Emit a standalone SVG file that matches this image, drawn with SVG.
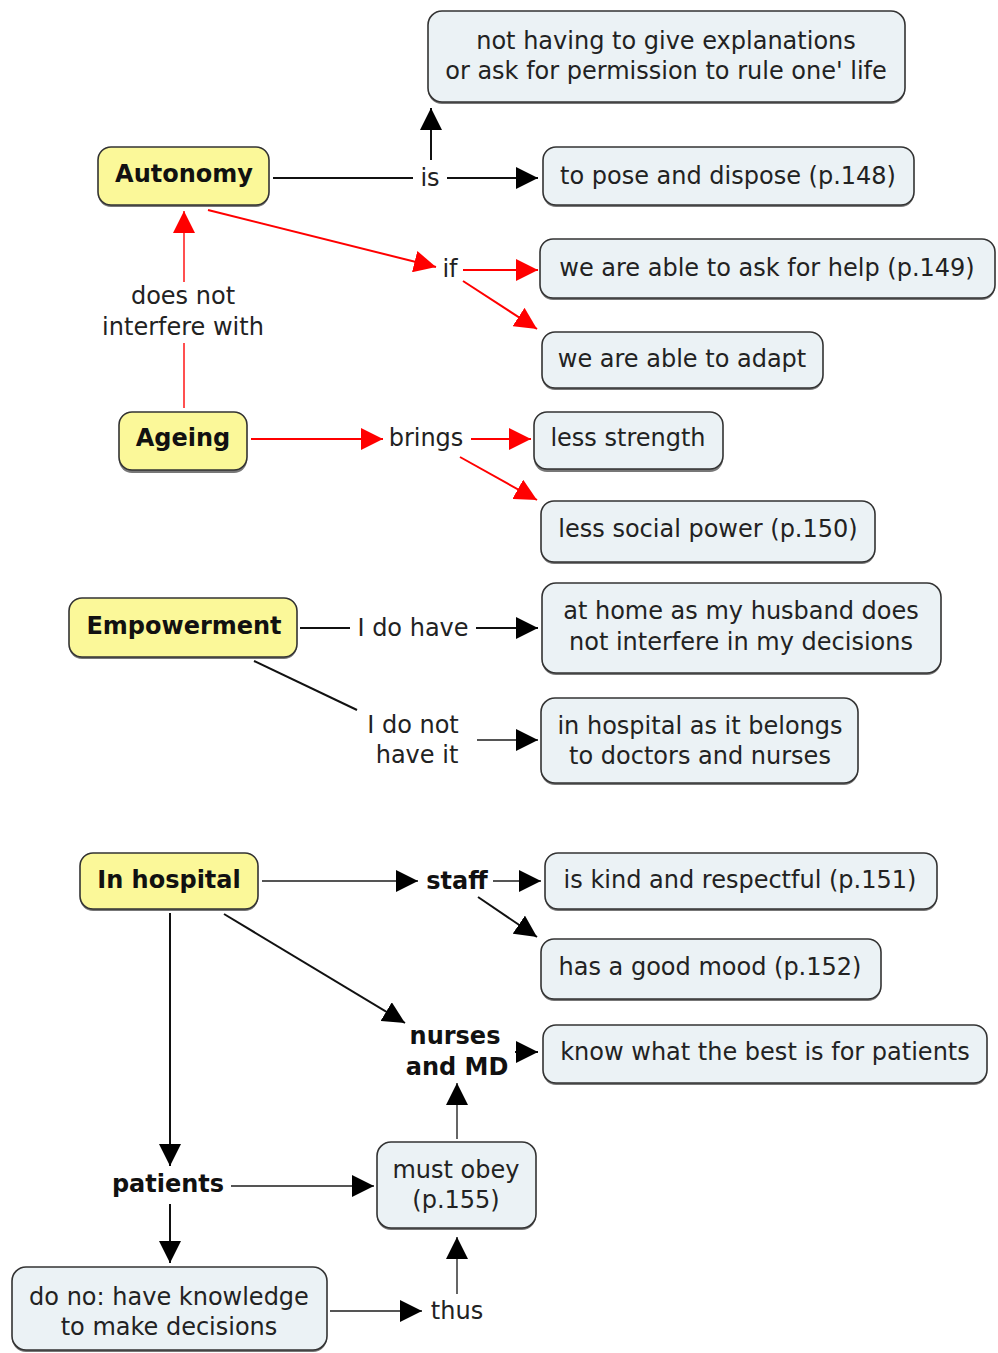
<svg xmlns="http://www.w3.org/2000/svg" width="998" height="1353" viewBox="0 0 998 1353">
<style>
text{font-family:"DejaVu Sans","Verdana",sans-serif;font-size:24px;fill:#222;text-anchor:middle;dominant-baseline:central}
.b{font-weight:bold;fill:#111}
.box{fill:#ebf2f5;stroke:#333;stroke-width:1.6}
.yel{fill:#fbf899;stroke:#333;stroke-width:1.6}
.sh{fill:#777}
.k{stroke:#111;stroke-width:2;fill:none}
.g{stroke:#555;stroke-width:1.8;fill:none}
.r{stroke:#ff0000;stroke-width:2;fill:none}
.rp{stroke:#ff5050;stroke-width:2;fill:none}
</style>
<defs>
<marker id="ak" markerUnits="userSpaceOnUse" markerWidth="22" markerHeight="22" refX="22" refY="11" orient="auto"><path d="M0,0 L22,11 L0,22 z" fill="#000"/></marker>
<marker id="ar" markerUnits="userSpaceOnUse" markerWidth="22" markerHeight="22" refX="22" refY="11" orient="auto"><path d="M0,0 L22,11 L0,22 z" fill="#ff0000"/></marker>
</defs>
<g id="connectors">
<line class="k" x1="273" y1="178" x2="413" y2="178"/>
<line class="k" x1="447" y1="178" x2="538" y2="178" marker-end="url(#ak)"/>
<line class="k" x1="431" y1="160" x2="431" y2="108" marker-end="url(#ak)"/>
<line class="r" x1="208" y1="210" x2="436" y2="267" marker-end="url(#ar)"/>
<line class="r" x1="463" y1="270" x2="538" y2="270" marker-end="url(#ar)"/>
<line class="r" x1="463" y1="281" x2="537" y2="329" marker-end="url(#ar)"/>
<line class="rp" x1="184" y1="282" x2="184" y2="211" marker-end="url(#ar)"/>
<line class="rp" x1="184" y1="343" x2="184" y2="408"/>
<line class="r" x1="251" y1="439" x2="383" y2="439" marker-end="url(#ar)"/>
<line class="r" x1="471" y1="439" x2="531" y2="439" marker-end="url(#ar)"/>
<line class="r" x1="460" y1="457" x2="537" y2="500" marker-end="url(#ar)"/>
<line class="k" x1="300" y1="628" x2="350" y2="628"/>
<line class="k" x1="476" y1="628" x2="538" y2="628" marker-end="url(#ak)"/>
<line class="k" x1="254" y1="661" x2="357" y2="710"/>
<line class="g" x1="477" y1="740" x2="538" y2="740" marker-end="url(#ak)"/>
<line class="g" x1="262" y1="881" x2="418" y2="881" marker-end="url(#ak)"/>
<line class="g" x1="493" y1="881" x2="541" y2="881" marker-end="url(#ak)"/>
<line class="k" x1="478" y1="897" x2="537" y2="937" marker-end="url(#ak)"/>
<line class="k" x1="224" y1="914" x2="405" y2="1023" marker-end="url(#ak)"/>
<line class="k" x1="515" y1="1052" x2="538" y2="1052" marker-end="url(#ak)"/>
<line class="k" x1="170" y1="913" x2="170" y2="1166" marker-end="url(#ak)"/>
<line class="g" x1="231" y1="1186" x2="374" y2="1186" marker-end="url(#ak)"/>
<line class="k" x1="170" y1="1204" x2="170" y2="1263" marker-end="url(#ak)"/>
<line class="g" x1="330" y1="1311" x2="422" y2="1311" marker-end="url(#ak)"/>
<line class="g" x1="457" y1="1294" x2="457" y2="1237" marker-end="url(#ak)"/>
<line class="g" x1="457" y1="1139" x2="457" y2="1083" marker-end="url(#ak)"/>
</g>
<g id="n-explanations"><rect class="sh" x="428" y="13" width="477" height="91" rx="14"/><rect class="box" x="428" y="11" width="477" height="91" rx="14"/><text x="666" y="41">not having to give explanations</text><text x="666" y="71">or ask for permission to rule one' life</text></g>
<g id="n-pose"><rect class="sh" x="543" y="149" width="371" height="58" rx="13"/><rect class="box" x="543" y="147" width="371" height="58" rx="13"/><text x="728" y="176">to pose and dispose (p.148)</text></g>
<g id="n-help"><rect class="sh" x="540" y="241" width="455" height="59" rx="13"/><rect class="box" x="540" y="239" width="455" height="59" rx="13"/><text x="767" y="268">we are able to ask for help (p.149)</text></g>
<g id="n-adapt"><rect class="sh" x="542" y="334" width="281" height="56" rx="13"/><rect class="box" x="542" y="332" width="281" height="56" rx="13"/><text x="682" y="359">we are able to adapt</text></g>
<g id="n-strength"><rect class="sh" x="534" y="415" width="189" height="57" rx="13"/><rect class="box" x="534" y="412" width="189" height="57" rx="13"/><text x="628" y="438">less strength</text></g>
<g id="n-social"><rect class="sh" x="541" y="503" width="334" height="61" rx="13"/><rect class="box" x="541" y="501" width="334" height="61" rx="13"/><text x="708" y="529">less social power (p.150)</text></g>
<g id="n-home"><rect class="sh" x="542" y="585" width="399" height="90" rx="14"/><rect class="box" x="542" y="583" width="399" height="90" rx="14"/><text x="741" y="611">at home as my husband does</text><text x="741" y="642">not interfere in my decisions</text></g>
<g id="n-hospital2"><rect class="sh" x="541" y="700" width="317" height="85" rx="14"/><rect class="box" x="541" y="698" width="317" height="85" rx="14"/><text x="700" y="726">in hospital as it belongs</text><text x="700" y="756">to doctors and nurses</text></g>
<g id="n-kind"><rect class="sh" x="545" y="855" width="392" height="56" rx="13"/><rect class="box" x="545" y="853" width="392" height="56" rx="13"/><text x="740" y="880">is kind and respectful (p.151)</text></g>
<g id="n-mood"><rect class="sh" x="541" y="941" width="340" height="60" rx="13"/><rect class="box" x="541" y="939" width="340" height="60" rx="13"/><text x="710" y="967">has a good mood (p.152)</text></g>
<g id="n-know"><rect class="sh" x="543" y="1027" width="444" height="58" rx="13"/><rect class="box" x="543" y="1025" width="444" height="58" rx="13"/><text x="765" y="1052">know what the best is for patients</text></g>
<g id="n-obey"><rect class="sh" x="377" y="1144" width="159" height="86" rx="14"/><rect class="box" x="377" y="1142" width="159" height="86" rx="14"/><text x="456" y="1170">must obey</text><text x="456" y="1200">(p.155)</text></g>
<g id="n-knowledge"><rect class="sh" x="12" y="1269" width="315" height="83" rx="14"/><rect class="box" x="12" y="1267" width="315" height="83" rx="14"/><text x="169" y="1297">do no: have knowledge</text><text x="169" y="1327">to make decisions</text></g>
<g id="n-autonomy"><rect class="sh" x="98" y="149" width="171" height="58" rx="13"/><rect class="yel" x="98" y="147" width="171" height="58" rx="13"/><text class="b" x="184" y="174">Autonomy</text></g>
<g id="n-ageing"><rect class="sh" x="119" y="415" width="128" height="58" rx="13"/><rect class="yel" x="119" y="412" width="128" height="58" rx="13"/><text class="b" x="183" y="438">Ageing</text></g>
<g id="n-empowerment"><rect class="sh" x="69" y="600" width="228" height="59" rx="13"/><rect class="yel" x="69" y="598" width="228" height="59" rx="13"/><text class="b" x="184" y="626">Empowerment</text></g>
<g id="n-inhospital"><rect class="sh" x="80" y="855" width="178" height="56" rx="13"/><rect class="yel" x="80" y="853" width="178" height="56" rx="13"/><text class="b" x="169" y="880">In hospital</text></g>
<g id="labels">
<text x="430" y="178">is</text>
<text x="450" y="269">if</text>
<text x="183" y="296">does not</text>
<text x="183" y="327">interfere with</text>
<text x="426" y="438">brings</text>
<text x="413" y="628">I do have</text>
<text x="413" y="725">I do not</text>
<text x="417" y="755">have it</text>
<text class="b" x="457" y="881">staff</text>
<text class="b" x="455" y="1036">nurses</text>
<text class="b" x="457" y="1067">and MD</text>
<text class="b" x="168" y="1184">patients</text>
<text x="457" y="1311">thus</text>
</g>
</svg>
